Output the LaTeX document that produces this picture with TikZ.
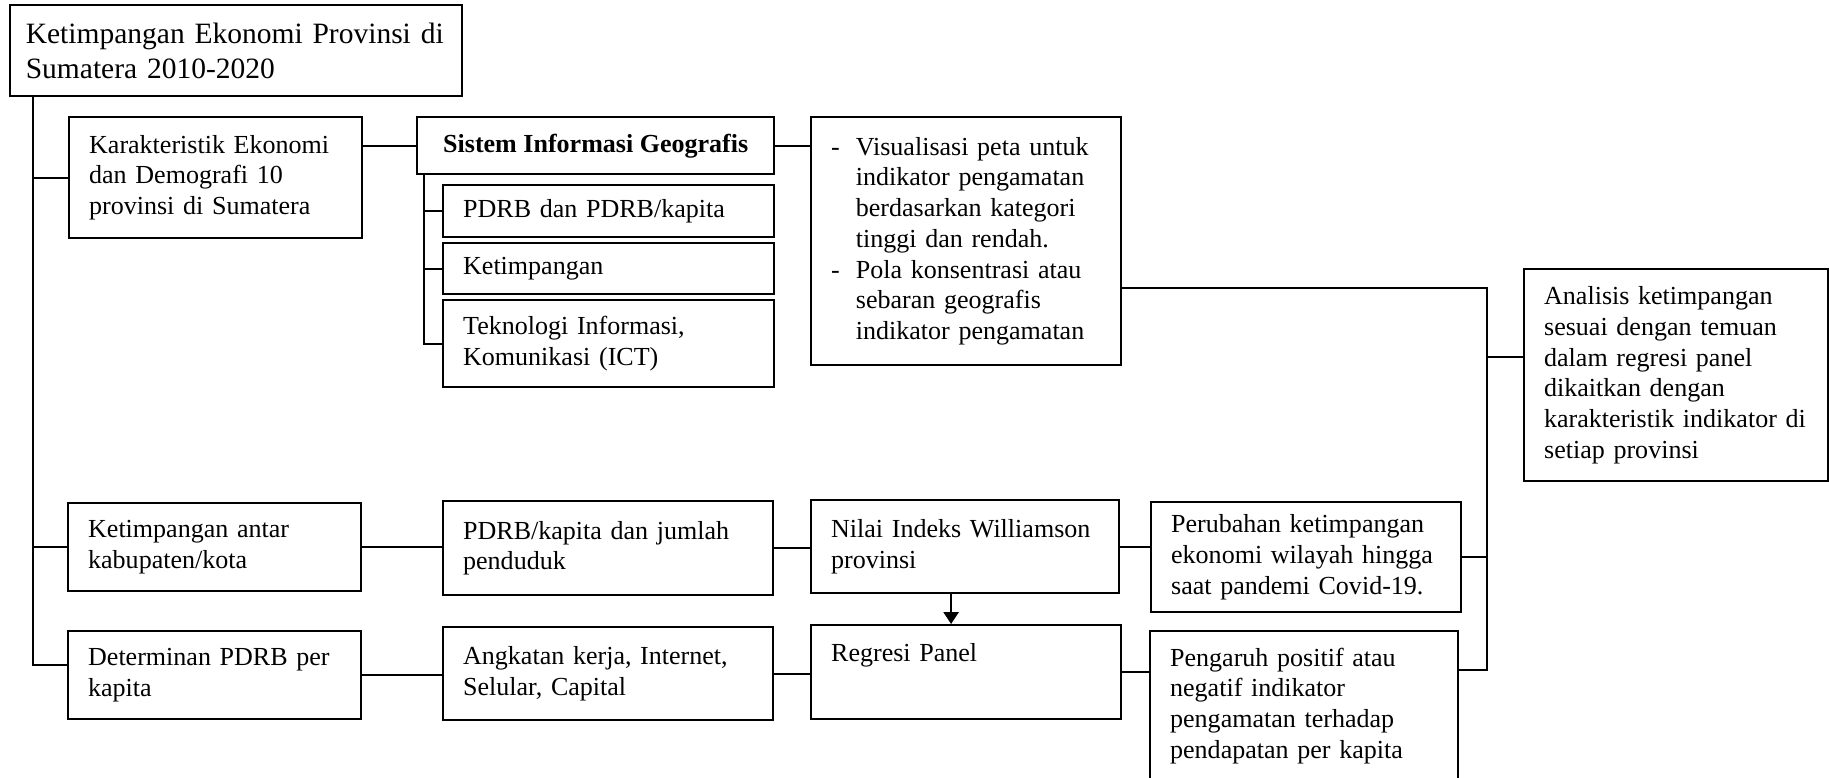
\documentclass[tikz,border=0pt]{standalone}
\usepackage{fontspec}
\setmainfont{Liberation Serif}
\usetikzlibrary{arrows.meta}
\tikzstyle{box} = [draw, line width=1.1pt, anchor=north west, align=left, inner xsep=9.2pt, font=\fontsize{12}{14.15}\selectfont]
\tikzstyle{link} = [line width=0.9pt]
\tikzstyle{arrow} = [line width=0.9pt, -{Triangle[length=5.5pt,width=7pt]}]

\begin{document}
\begin{tikzpicture}[x=0.461pt, y=-0.461pt]
                 \useasboundingbox (0,0) rectangle (1829,777);
                 \node [box, text width=194pt, inner xsep=7.2pt, minimum height=41.95pt, font=\fontsize{13.6}{16.1}\selectfont] at (9,4) (top) {Ketimpangan Ekonomi Provinsi di\\Sumatera 2010-2020};
                 \node [box, text width=116.7pt, minimum height=55.8pt] at (68,116) (kar) {Karakteristik Ekonomi\\dan Demografi 10\\provinsi di Sumatera};
                 \node [box, minimum width=164.6pt, minimum height=26.3pt, font=\fontsize{12}{14.15}\selectfont\bfseries] at (416,116) (sig) {Sistem Informasi Geografis};
                 \node [box, text width=134.2pt, minimum height=24pt] at (442,184) (pdrb) {PDRB dan PDRB/kapita};
                 \node [box, text width=134.2pt, minimum height=23.5pt] at (442,242) (ktm) {Ketimpangan};
                 \node [box, text width=134.2pt, minimum height=40.1pt] at (442,299) (ict) {Teknologi Informasi,\\Komunikasi (ICT)};
                 \node [box, text width=124.5pt, minimum height=114.3pt] at (810,116) (peta) {\begin{tabular}{@{}l@{\hspace{7.4pt}}l@{}}
                     -&Visualisasi peta untuk\\&indikator pengamatan\\&berdasarkan kategori\\&tinggi dan rendah.\\
                     -&Pola konsentrasi atau\\&sebaran geografis\\&indikator pengamatan\end{tabular}};
                 \node [box, text width=121.7pt, minimum height=97.7pt] at (1523,268) (hasil) {Analisis ketimpangan\\sesuai dengan temuan\\dalam regresi panel\\dikaitkan dengan\\karakteristik indikator di\\setiap provinsi};
                 \node [box, text width=116.7pt, minimum height=40.6pt] at (67,502) (antar) {Ketimpangan antar\\kabupaten/kota};
                 \node [box, text width=133.7pt, minimum height=43.3pt] at (442,500) (pkap) {PDRB/kapita dan jumlah\\penduduk};
                 \node [box, text width=123.6pt, minimum height=42.9pt] at (810,499) (iw) {Nilai Indeks Williamson\\provinsi};
                 \node [box, text width=124.5pt, minimum height=50.7pt] at (1150,501) (covid) {Perubahan ketimpangan\\ekonomi wilayah hingga\\saat pandemi Covid-19.};
                 \node [box, text width=116.7pt, minimum height=40.6pt] at (67,630) (det) {Determinan PDRB per\\kapita};
                 \node [box, text width=133.7pt, minimum height=42.9pt] at (442,626) (var) {Angkatan kerja, Internet,\\Selular, Capital};
                 \node [box, text width=124.5pt, inner ysep=0pt, text height=16.6pt, text depth=26.7pt] at (810,624) (reg) {Regresi Panel};
                 % box runs past the lower edge
                 \node [box, text width=123.6pt, inner ysep=0pt, text height=16.1pt, text depth=62pt] at (1149,630) (efek) {Pengaruh positif atau\\negatif indikator\\pengamatan terhadap\\pendapatan per kapita};
                 % trunk lines
                 \coordinate (trk) at (33,0);
                 \coordinate (strk) at (424,0);
                 \coordinate (bus) at (1487,0);
                 \coordinate (hin) at ([yshift=8.3pt]hasil.west);
                 \coordinate (ein) at (efek.north east |- 0,670);
                 \draw [link] (top.south -| trk) |- ([yshift=4.6pt]det.west);
                 \draw [link] (kar.west -| trk) -- (kar.west);
                 \draw [link] (antar.west -| trk) -- (antar.west);
                 \draw [link] (sig.west -| kar.east) -- (sig.west);
                 \draw [link] (sig.south -| strk) |- (ict.west);
                 \draw [link] (pdrb.west -| strk) -- (pdrb.west);
                 \draw [link] (ktm.west -| strk) -- (ktm.west);
                 \draw [link] (sig.east) -- (sig.east -| peta.west);
                 \draw [link] ([yshift=-21.7pt]peta.east) -| (bus |- ein) -- (ein);
                 \draw [link] (bus |- hin) -- (hin);
                 \draw [link] (covid.east) -- (covid.east -| bus);
                 \draw [link] (antar.east) -- (antar.east -| pkap.west);
                 \draw [link] (pkap.east) -- (pkap.east -| iw.west);
                 \draw [link] (iw.east) -- (iw.east -| covid.west);
                 \draw [arrow] ([xshift=-6.5pt]iw.south) -- ([xshift=-6.5pt]iw.south |- reg.north);
                 \draw [link] (det.east) -- (det.east -| var.west);
                 \draw [link] (var.east) -- (var.east -| reg.west);
                 \draw [link] (reg.east) -- (reg.east -| efek.west);
\end{tikzpicture}
\end{document}
